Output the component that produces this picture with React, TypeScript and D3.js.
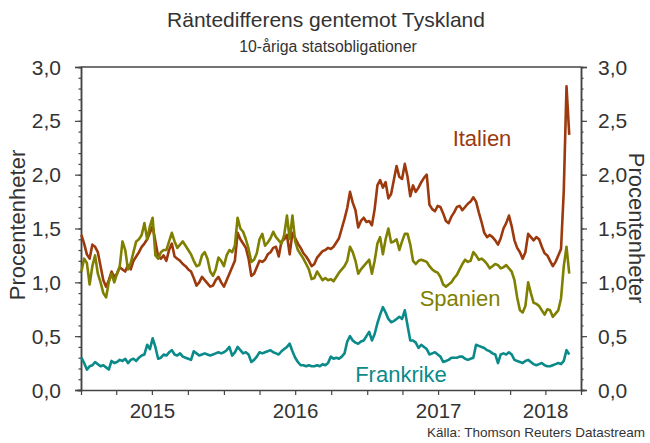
import React, { useEffect, useRef } from 'react';
import * as d3 from 'd3';

// weekly observations (Fridays), first one 2 Jan 2015
const firstDate = '2015-01-02';

const italy = [
  1.44, 1.36, 1.26, 1.22, 1.35, 1.33, 1.28, 1.15, 1.02, 0.96,
  1.02, 1.10, 1.05, 1.08, 1.14, 1.12, 1.10, 1.16, 1.12, 1.20,
  1.24, 1.28, 1.33, 1.36, 1.40, 1.46, 1.52, 1.38, 1.24, 1.22,
  1.25, 1.20, 1.30, 1.36, 1.24, 1.22, 1.20, 1.17, 1.15, 1.12,
  1.10, 1.04, 0.97, 1.00, 1.05, 1.02, 0.99, 0.96, 0.97, 1.02,
  1.05, 1.00, 0.96, 1.02, 1.08, 1.14, 1.20, 1.46, 1.40, 1.36,
  1.32, 1.22, 1.06, 1.08, 1.14, 1.20, 1.19, 1.21, 1.26, 1.28,
  1.32, 1.33, 1.24, 1.38, 1.40, 1.44, 1.26, 1.46, 1.41, 1.36,
  1.32, 1.27, 1.24, 1.20, 1.15, 1.17, 1.23, 1.26, 1.29, 1.30,
  1.32, 1.31, 1.33, 1.37, 1.41, 1.50, 1.59, 1.69, 1.84, 1.74,
  1.67, 1.51, 1.57, 1.60, 1.56, 1.57, 1.53, 1.68, 1.90, 1.95,
  1.88, 1.93, 1.78, 1.82, 1.95, 2.08, 1.98, 1.96, 2.10, 1.98,
  1.80, 1.90, 1.84, 1.88, 1.93, 1.97, 2.00, 1.72, 1.68, 1.66,
  1.71, 1.70, 1.64, 1.57, 1.55, 1.61, 1.65, 1.70, 1.71, 1.67,
  1.70, 1.73, 1.75, 1.79, 1.75, 1.65, 1.56, 1.46, 1.42, 1.44,
  1.42, 1.39, 1.35, 1.41, 1.50, 1.55, 1.62, 1.52, 1.39, 1.32,
  1.28, 1.22, 1.28, 1.45, 1.42, 1.39, 1.42, 1.40, 1.33, 1.27,
  1.25, 1.20, 1.15, 1.19, 1.25, 1.31, 1.85, 2.82, 2.37,
];

const spain = [
  1.10, 1.22, 1.18, 0.98, 1.15, 1.25, 1.08, 1.00, 0.90, 0.86,
  1.00, 1.08, 1.00, 1.08, 1.15, 1.38, 1.30, 1.12, 1.18, 1.28,
  1.38, 1.40, 1.44, 1.55, 1.40, 1.52, 1.60, 1.25, 1.22, 1.28,
  1.30, 1.30, 1.38, 1.46, 1.38, 1.32, 1.35, 1.38, 1.34, 1.30,
  1.26, 1.20, 1.15, 1.16, 1.25, 1.28, 1.22, 1.10, 1.06, 1.12,
  1.23, 1.20, 1.15, 1.25, 1.30, 1.28, 1.34, 1.60, 1.50, 1.47,
  1.40, 1.31, 1.19, 1.21, 1.27, 1.40, 1.45, 1.34, 1.37, 1.41,
  1.47, 1.42, 1.39, 1.36, 1.44, 1.62, 1.40, 1.62, 1.38, 1.30,
  1.26, 1.22, 1.17, 1.12, 1.03, 1.04, 1.10, 1.06, 1.02, 1.04,
  1.02, 1.03, 1.01, 1.05, 1.09, 1.12, 1.15, 1.20, 1.33, 1.28,
  1.20, 1.08, 1.12, 1.15, 1.18, 1.21, 1.08, 1.20, 1.36, 1.42,
  1.26, 1.40, 1.50, 1.37, 1.38, 1.40, 1.30, 1.38, 1.45, 1.45,
  1.35, 1.20, 1.17, 1.20, 1.21, 1.20, 1.19, 1.15, 1.12, 1.10,
  1.09, 1.05, 0.98, 0.96, 0.98, 1.00, 1.04, 1.07, 1.12, 1.17,
  1.21, 1.19, 1.20, 1.28, 1.25, 1.21, 1.22, 1.20, 1.17, 1.13,
  1.15, 1.17, 1.16, 1.13, 1.14, 1.16, 1.13, 1.10, 1.02, 0.86,
  0.74, 0.72, 0.78, 1.00, 0.90, 0.81, 0.80, 0.78, 0.74, 0.70,
  0.75, 0.74, 0.68, 0.71, 0.74, 0.85, 1.15, 1.33, 1.08,
];

const france = [
  0.30, 0.25, 0.19, 0.22, 0.23, 0.26, 0.24, 0.22, 0.23, 0.21,
  0.19, 0.27, 0.25, 0.26, 0.28, 0.27, 0.29, 0.25, 0.28, 0.29,
  0.27, 0.30, 0.32, 0.33, 0.42, 0.38, 0.48, 0.40, 0.29, 0.30,
  0.33, 0.32, 0.35, 0.37, 0.33, 0.32, 0.34, 0.31, 0.30, 0.29,
  0.28, 0.36, 0.34, 0.32, 0.33, 0.34, 0.33, 0.32, 0.33, 0.34,
  0.35, 0.34, 0.35, 0.37, 0.40, 0.32, 0.35, 0.40, 0.37, 0.34,
  0.35, 0.33, 0.26, 0.28, 0.31, 0.35, 0.34, 0.35, 0.36, 0.37,
  0.35, 0.34, 0.33, 0.36, 0.38, 0.40, 0.43, 0.36, 0.30, 0.26,
  0.23, 0.23, 0.22, 0.23, 0.22, 0.22, 0.23, 0.22, 0.24, 0.23,
  0.25, 0.31, 0.29, 0.30, 0.29, 0.31, 0.34, 0.45, 0.50, 0.46,
  0.44, 0.43, 0.45, 0.46, 0.50, 0.54, 0.46, 0.52, 0.62, 0.70,
  0.77, 0.72, 0.66, 0.63, 0.64, 0.66, 0.68, 0.66, 0.74, 0.60,
  0.46, 0.46, 0.44, 0.39, 0.42, 0.40, 0.38, 0.33, 0.34, 0.35,
  0.33, 0.31, 0.26, 0.27, 0.28, 0.30, 0.30, 0.30, 0.31, 0.31,
  0.29, 0.28, 0.29, 0.30, 0.42, 0.41, 0.40, 0.39, 0.37, 0.36,
  0.34, 0.33, 0.25, 0.33, 0.34, 0.33, 0.35, 0.33, 0.28, 0.27,
  0.26, 0.25, 0.27, 0.28, 0.26, 0.24, 0.23, 0.24, 0.25, 0.23,
  0.22, 0.22, 0.23, 0.24, 0.25, 0.24, 0.27, 0.37, 0.33,
];

const seriesNames = ['Italien', 'Spanien', 'Frankrike'];
const seriesColors = ['#9c3a0e', '#7f7f00', '#0b8a8a'];
const yTicks = [0, 0.5, 1, 1.5, 2, 2.5, 3];
const years = [2015, 2016, 2017, 2018];

const W = 650;
const H = 443;
const font = '"Liberation Sans", Arial, sans-serif';
const ink = '#333';

export default function App() {
  const ref = useRef<SVGSVGElement>(null);

  useEffect(() => {
    const svg = d3.select(ref.current);
    svg.selectAll('*').remove();

    const start = d3.timeParse('%Y-%m-%d')(firstDate) as Date;
    const dates = italy.map((_, i) => d3.timeDay.offset(start, 7 * i));
    const domainStart = new Date(2015, 0, 1);
    const domainEnd = new Date(2018, 6, 1);

    const x = d3.scaleTime().domain([domainStart, domainEnd]).range([81, 581]);
    const y = d3.scaleLinear().domain([0, 3]).range([390, 67]);
    const fmt = (v: number) => d3.format('.1f')(v).replace('.', ',');

    // frame
    const g = svg.append('g');
    g.append('line').attr('x1', 81).attr('x2', 581).attr('y1', 67).attr('y2', 67)
      .attr('stroke', '#444').attr('stroke-width', 1.5);

    // left axis
    const left = g.append('g').attr('transform', 'translate(81,0)');
    left.call(d3.axisLeft(y).tickValues(d3.range(0, 3.01, 0.1)).tickSize(2.5).tickFormat(() => ''));
    left.append('g').call(d3.axisLeft(y).tickValues(yTicks).tickSize(6).tickFormat(() => ''));
    left.selectAll('.domain').attr('stroke', '#444').attr('stroke-width', 1.5);
    left.selectAll('line').attr('stroke', '#444').attr('stroke-width', 1.2);

    const right = g.append('g').attr('transform', 'translate(581,0)');
    right.call(d3.axisRight(y).tickValues(d3.range(0, 3.01, 0.1)).tickSize(2.5).tickFormat(() => ''));
    right.append('g').call(d3.axisRight(y).tickValues(yTicks).tickSize(6).tickFormat(() => ''));
    right.selectAll('.domain').attr('stroke', '#444').attr('stroke-width', 1.5);
    right.selectAll('line').attr('stroke', '#444').attr('stroke-width', 1.2);

    // y tick labels
    const labels = g.append('g').attr('font-family', font).attr('font-size', 21).attr('fill', ink);
    labels.selectAll('text.l').data(yTicks).enter().append('text')
      .attr('x', 61).attr('y', (d) => y(d)).attr('dy', '0.36em')
      .attr('text-anchor', 'end').text(fmt);
    labels.selectAll('text.r').data(yTicks).enter().append('text')
      .attr('x', 598).attr('y', (d) => y(d)).attr('dy', '0.36em')
      .attr('text-anchor', 'start').text(fmt);

    // bottom axis
    const bottom = g.append('g').attr('transform', 'translate(0,390)');
    bottom.call(d3.axisBottom(x).ticks(d3.timeMonth.every(3)).tickSize(5).tickFormat(() => ''));
    bottom.selectAll('.domain').attr('stroke', '#444').attr('stroke-width', 1.5)
      .attr('d', 'M77,0.5H585');
    bottom.selectAll('line').attr('stroke', '#444').attr('stroke-width', 1.2);

    g.append('g').attr('font-family', font).attr('font-size', 20.5).attr('fill', ink)
      .selectAll('text').data(years).enter().append('text')
      .attr('x', (yr) => {
        const a = Math.max(+new Date(yr, 0, 1), +domainStart);
        const b = Math.min(+new Date(yr + 1, 0, 1), +domainEnd);
        return x(new Date((a + b) / 2));
      })
      .attr('y', 418).attr('text-anchor', 'middle').text((d) => d);

    // series
    const line = d3.line<number>()
      .x((_, i) => x(dates[i]))
      .y((d) => y(d));
    [italy, spain, france].forEach((s, k) => {
      svg.append('path').datum(s).attr('d', line)
        .attr('fill', 'none').attr('stroke', seriesColors[k])
        .attr('stroke-width', 2.6).attr('stroke-linejoin', 'round');
    });

    const labelPos = [[482, 146], [460, 306], [401, 382]];
    seriesNames.forEach((n, k) => {
      svg.append('text').attr('x', labelPos[k][0]).attr('y', labelPos[k][1])
        .attr('text-anchor', 'middle').attr('font-family', font).attr('font-size', 22)
        .attr('fill', seriesColors[k]).text(n);
    });

    // titles
    svg.append('text').attr('x', 326).attr('y', 27).attr('text-anchor', 'middle')
      .attr('font-family', font).attr('font-size', 21).attr('fill', ink)
      .text('Räntedifferens gentemot Tyskland');
    svg.append('text').attr('x', 328).attr('y', 52).attr('text-anchor', 'middle')
      .attr('font-family', font).attr('font-size', 15.8).attr('fill', ink)
      .text('10-åriga statsobligationer');
    svg.append('text').attr('transform', 'translate(25,225) rotate(-90)')
      .attr('text-anchor', 'middle').attr('font-family', font).attr('font-size', 22)
      .attr('fill', ink).text('Procentenheter');
    svg.append('text').attr('transform', 'translate(629,228) rotate(90)')
      .attr('text-anchor', 'middle').attr('font-family', font).attr('font-size', 22)
      .attr('fill', ink).text('Procentenheter');
    svg.append('text').attr('x', 645).attr('y', 437).attr('text-anchor', 'end')
      .attr('font-family', font).attr('font-size', 13.5).attr('fill', ink)
      .text('Källa: Thomson Reuters Datastream');
  }, []);

  return (
    <svg ref={ref} width={W} height={H}
      style={{ position: 'absolute', left: 0, top: 0, background: '#fff' }} />
  );
}
